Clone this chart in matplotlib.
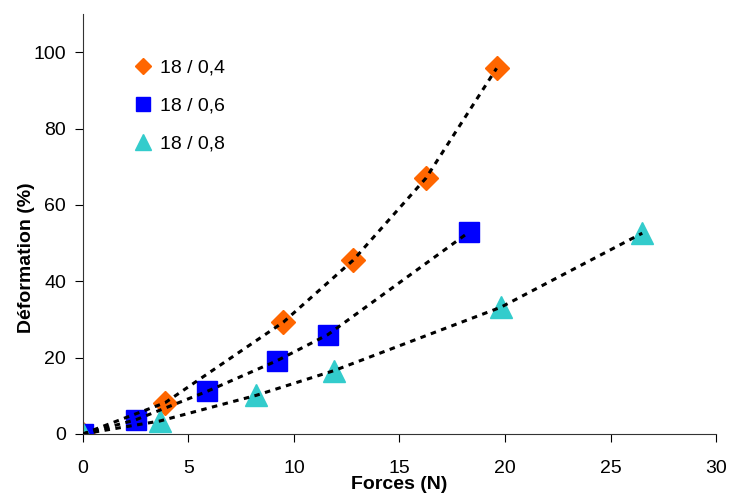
import matplotlib as mpl
import matplotlib.pyplot as plt

mpl.rc('font', family=['Liberation Sans', 'DejaVu Sans'], size=14)

# data
f_04 = [0, 3.9, 9.5, 12.8, 16.25, 19.6]
d_04 = [0, 8.2, 29.3, 45.5, 67.0, 95.8]

f_06 = [0, 2.5, 5.9, 9.2, 11.6, 18.3]
d_06 = [0, 3.7, 11.2, 19.2, 26.0, 52.9]

f_08 = [0, 3.65, 8.2, 11.9, 19.8, 26.5]
d_08 = [0, 3.4, 10.1, 16.6, 33.2, 52.6]

labels = ['18 / 0,4', '18 / 0,6', '18 / 0,8']

fig = plt.figure(figsize=(7.33, 4.94), dpi=100)
ax = fig.add_axes([0.113, 0.1215, 0.864, 0.85])

series = [
    (f_04, d_04, 'D', '#FF6600', 12),
    (f_06, d_06, 's', '#0000FF', 15),
    (f_08, d_08, '^', '#33CCCC', 16),
]

for (x, y, m, c, ms), lab in zip(series, labels):
    ax.plot(x, y, ls='none', marker=m, color=c, ms=ms, mec=c, label=lab, zorder=2)
    ax.plot(x, y, ls=(0, (1.8, 1.8)), color='black', lw=2.2, zorder=3)

ax.set(xlim=(0, 30), ylim=(0, 110),
       xticks=range(0, 31, 5), yticks=range(0, 101, 20))
ax.spines[['top', 'right']].set_visible(False)
ax.spines[['left', 'bottom']].set_color('#333333')
ax.tick_params(axis='x', direction='out', length=6, pad=13)
ax.tick_params(axis='y', direction='out', length=6, pad=6)
ax.set_xlabel('Forces (N)', fontweight='bold', labelpad=-1)
ax.set_ylabel('Déformation (%)', fontweight='bold')
ax.yaxis.set_label_coords(-0.075, 0.42)
for sp in ax.spines.values():
    sp.set_clip_on(False)

ax.legend(loc='upper left', bbox_to_anchor=(0.052, 0.935), frameon=False,
          handletextpad=0.35, labelspacing=1.05, markerscale=0.7, handlelength=1.0)

fig.savefig('out.png', dpi=100)
